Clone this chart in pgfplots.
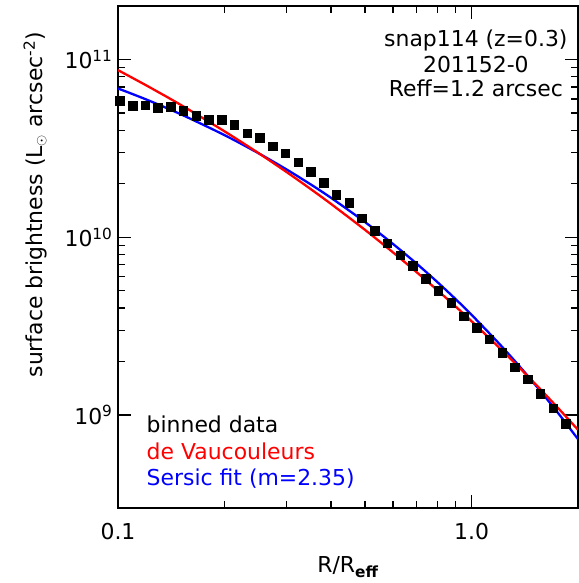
\documentclass[border=0pt]{standalone}
\usepackage{fontspec}
\setmainfont{DejaVu Sans}
\usepackage{pgfplots}
\pgfplotsset{compat=1.18}
\begin{document}
\begin{tikzpicture}[font=\fontsize{22}{26}\selectfont]
\path[use as bounding box] (-118bp,-75bp) rectangle (461bp,508bp);
\begin{axis}[
  at={(0,0)}, anchor=south west,
  scale only axis, width=460bp, height=502bp,
  xmode=log, ymode=log,
  xmin=0.1, xmax=2, ymin=3e8, ymax=2e11,
  xtick={0.1,1}, xticklabels={0.1,1.0},
  ytick={1e9,1e10,1e11},
  yticklabels={10\textsuperscript{9},10\textsuperscript{10},10\textsuperscript{11}},
  tick align=inside,
  major tick length=13bp, minor tick length=7bp,
  axis line style={line width=1.6bp},
  every tick/.style={line width=1.3bp, black},
  xticklabel style={yshift=-12bp},
  yticklabel style={xshift=-2bp},
  xlabel={R/R\textsubscript{\textbf{eff}}},
  ylabel={surface brightness (L$_\odot$ arcsec\textsuperscript{-2})},
  every axis x label/.style={at={(axis description cs:0.5,0)}, anchor=base, yshift=-65bp},
  every axis y label/.style={at={(axis description cs:-0.18,0.604)}, anchor=center, rotate=90},
  clip=true,
]
\addplot[only marks, mark=square*, mark size=4.3bp, black] coordinates {
(0.1011,5.86e10) (0.1099,5.48e10) (0.1194,5.54e10) (0.1297,5.36e10)
(0.1409,5.42e10) (0.1531,5.16e10) (0.1664,4.84e10) (0.1808,4.59e10)
(0.1964,4.59e10) (0.2134,4.30e10) (0.2319,3.84e10) (0.2519,3.62e10)
(0.2737,3.25e10) (0.2974,2.97e10) (0.3231,2.64e10) (0.3511,2.34e10)
(0.3815,2.02e10) (0.4145,1.74e10) (0.4504,1.56e10) (0.4894,1.28e10)
(0.5318,1.09e10) (0.5778,9.28e9) (0.6278,7.93e9) (0.6821,6.92e9)
(0.7413,5.83e9) (0.8054,5.01e9) (0.8751,4.27e9) (0.9508,3.59e9)
(1.0332,3.09e9) (1.1226,2.67e9) (1.2198,2.24e9) (1.3253,1.86e9)
(1.4401,1.59e9) (1.5647,1.32e9) (1.7002,1.09e9) (1.8474,8.95e8)
};
\addplot[blue, line width=2.3bp, smooth] coordinates {
(0.10,6.871e10) (0.12,5.965e10) (0.15,4.934e10) (0.20,3.757e10)
(0.25,2.965e10) (0.30,2.404e10) (0.35,1.989e10) (0.40,1.669e10)
(0.50,1.216e10) (0.60,9.157e9) (0.70,7.093e9) (0.80,5.602e9)
(0.90,4.499e9) (1.00,3.662e9) (1.20,2.507e9) (1.40,1.778e9)
(1.60,1.294e9) (1.80,9.643e8) (2.00,7.317e8)
};
\addplot[red, line width=2.3bp, smooth] coordinates {
(0.10,8.71e10) (0.12,7.165e10) (0.15,5.576e10) (0.20,3.948e10)
(0.25,2.970e10) (0.30,2.325e10) (0.35,1.873e10) (0.40,1.542e10)
(0.50,1.099e10) (0.60,8.21e9) (0.70,6.35e9) (0.80,5.042e9)
(0.90,4.087e9) (1.00,3.37e9) (1.20,2.382e9) (1.40,1.755e9)
(1.60,1.334e9) (1.80,1.039e9) (2.00,8.26e8)
};
\node[anchor=base] at (rel axis cs:0.778,0.919) {snap114 (z=0.3)};
\node[anchor=base] at (rel axis cs:0.778,0.868) {201152-0};
\node[anchor=base] at (rel axis cs:0.778,0.819) {Reff=1.2 arcsec};
\node[anchor=base west, inner sep=0pt] at (rel axis cs:0.062,0.150) {binned data};
\node[anchor=base west, inner sep=0pt, red] at (rel axis cs:0.062,0.097) {de Vaucouleurs};
\node[anchor=base west, inner sep=0pt, blue] at (rel axis cs:0.062,0.044) {Sersic fit (m=2.35)};
\end{axis}
\end{tikzpicture}
\end{document}
